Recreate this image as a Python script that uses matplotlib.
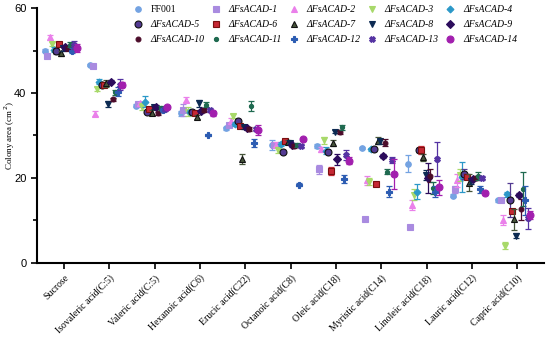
import numpy as np
import matplotlib.pyplot as plt
from matplotlib.ticker import MultipleLocator

plt.rcParams['font.family'] = 'Liberation Serif'

acids = ['Sucrose', 'Isovaleric acid(C:5)', 'Valeric acid(C:5)', 'Hexanoic acid(C6)',
         'Erucic acid(C22)', 'Octanoic acid(C8)', 'Oleic acid(C18)', 'Myristic acid(C14)',
         'Linoleic acid(C18)', 'Lauric acid(C12)', 'Capric acid(C10)']

strains = ['FF001'] + ['\u0394FsACAD-%d' % i for i in range(1, 15)]

# mean colony area (cm2) per strain, one value per carbon source
ff001 = [50.0, 46.6, 37.0, 35.2, 31.7, 27.8, 27.5, 27.0, 23.3, 15.8, 14.7]
acad1 = [48.8, 46.3, 37.3, 36.0, 32.5, 27.8, 22.0, 10.3, 8.5, 17.3, 14.7]
acad2 = [53.1, 35.1, 37.6, 38.4, 33.4, 27.8, 26.7, 19.4, 13.6, 19.4, 10.0]
acad3 = [51.6, 40.9, 36.8, 35.6, 34.6, 26.6, 28.9, 19.1, 16.0, 20.7, 4.0]
acad4 = [50.2, 42.7, 38.0, 35.6, 32.7, 28.0, 26.4, 26.7, 16.8, 20.2, 16.2]
acad5 = [49.9, 41.8, 35.6, 35.5, 33.5, 26.2, 26.2, 26.7, 26.6, 20.9, 14.8]
acad6 = [51.5, 42.0, 36.2, 35.4, 32.2, 28.7, 21.6, 18.6, 26.6, 20.3, 12.2]
acad7 = [49.4, 42.3, 35.4, 34.4, 24.4, 28.5, 28.3, 28.8, 24.9, 18.9, 10.3]
acad8 = [50.5, 37.4, 36.6, 37.6, 31.9, 28.3, 30.9, 28.6, 20.7, 19.3, 6.4]
acad9 = [50.8, 42.7, 36.8, 35.7, 31.7, 27.8, 24.4, 25.2, 19.9, 19.8, 16.0]
acad10 = [50.5, 38.5, 35.2, 36.0, 31.5, 27.5, 30.9, 28.3, 20.5, 20.0, 12.6]
acad11 = [51.4, 40.2, 36.5, 37.2, 36.9, 27.8, 31.9, 21.5, 17.6, 20.5, 17.3]
acad12 = [50.0, 40.3, 36.0, 30.1, 28.2, 18.4, 19.7, 16.8, 16.8, 17.3, 14.7]
acad13 = [51.3, 42.0, 36.3, 36.0, 31.5, 27.5, 25.4, 24.2, 24.4, 19.9, 10.5]
acad14 = [50.6, 41.9, 36.6, 35.2, 31.3, 29.1, 24.1, 21.0, 17.8, 16.4, 11.3]

# standard deviations
sd_ff001 = [0.3, 0.3, 0.3, 0.5, 0.4, 1.2, 0.5, 0.3, 2.0, 0.3, 0.3]
sd_acad1 = [0.3, 0.3, 0.4, 1.5, 0.4, 0.4, 1.0, 0.3, 0.3, 0.8, 0.3]
sd_acad2 = [0.5, 0.6, 0.4, 0.6, 0.6, 0.6, 0.6, 1.1, 1.2, 1.5, 1.2]
sd_acad3 = [0.5, 0.4, 0.8, 1.0, 0.5, 0.7, 0.8, 0.8, 1.3, 1.5, 0.8]
sd_acad4 = [0.6, 0.5, 1.2, 0.4, 0.4, 0.4, 0.8, 0.4, 1.8, 3.5, 0.6]
sd_acad5 = [0.7, 0.4, 0.4, 0.4, 0.4, 0.4, 0.4, 0.4, 0.5, 1.2, 4.0]
sd_acad6 = [0.5, 0.5, 0.4, 0.4, 0.4, 0.4, 0.9, 0.5, 1.0, 0.6, 0.5]
sd_acad7 = [0.6, 0.8, 0.5, 0.5, 1.2, 0.4, 0.7, 0.8, 0.8, 2.0, 2.5]
sd_acad8 = [0.5, 0.8, 0.4, 0.8, 0.4, 0.4, 0.4, 0.5, 1.2, 0.8, 0.6]
sd_acad9 = [0.5, 0.4, 0.4, 0.4, 0.4, 0.4, 1.3, 0.4, 3.5, 0.4, 0.5]
sd_acad10 = [0.5, 0.4, 0.4, 0.4, 0.4, 0.4, 0.5, 0.8, 1.5, 0.4, 2.5]
sd_acad11 = [0.5, 0.6, 0.5, 0.6, 1.2, 0.4, 0.5, 0.6, 1.5, 1.0, 4.0]
sd_acad12 = [0.5, 1.0, 0.4, 0.3, 0.9, 0.3, 0.9, 1.3, 1.2, 0.9, 3.5]
sd_acad13 = [1.0, 1.3, 0.5, 0.5, 0.5, 0.4, 1.2, 0.8, 4.0, 0.5, 2.5]
sd_acad14 = [1.0, 0.6, 0.4, 0.5, 1.1, 0.4, 0.8, 3.5, 1.8, 0.5, 1.0]

means = [ff001, acad1, acad2, acad3, acad4, acad5, acad6, acad7,
         acad8, acad9, acad10, acad11, acad12, acad13, acad14]
sds = [sd_ff001, sd_acad1, sd_acad2, sd_acad3, sd_acad4, sd_acad5, sd_acad6, sd_acad7,
       sd_acad8, sd_acad9, sd_acad10, sd_acad11, sd_acad12, sd_acad13, sd_acad14]

colors = ['#74a3e2', '#a98be0', '#ea80ea', '#a8d96a', '#2b98c8', '#533a92', '#c62834',
          '#46553a', '#0c2a52', '#2c0c5c', '#4c0c2a', '#1f6a50', '#2c5cb2', '#5432a2', '#a21fae']
edges = [None, None, None, None, None, '#111111', '#7a1010', '#111111', None, None,
         None, None, None, None, None]
markers = ['o', 's', '^', 'v', 'D', 'o', 's', '^', 'v', 'D', 'o', 'o', 'P', 'X', 'o']
sizes = [4, 4, 4, 4, 3.5, 5, 5, 4.5, 5, 4, 3.5, 3, 4, 4, 5]

fig, ax = plt.subplots(figsize=(5.5, 3.37), dpi=100)
fig.subplots_adjust(left=0.067, right=0.99, bottom=0.22, top=0.976)

x = np.arange(len(acids))
handles = []
for i in range(len(strains)):
    xs = x - 0.42 + 0.05 * i
    ax.errorbar(xs, means[i], yerr=sds[i], fmt='none', ecolor=colors[i],
                elinewidth=0.9, capsize=2, capthick=0.9, zorder=2 + i)
    h, = ax.plot(xs, means[i], linestyle='none', marker=markers[i], markersize=sizes[i],
                 color=colors[i], markeredgecolor=edges[i] or colors[i],
                 markeredgewidth=0.8, label=strains[i], zorder=3 + i)
    handles.append(h)

ax.set_xlim(-0.6, 10.6)
ax.set_ylim(0, 60)
ax.yaxis.set_major_locator(MultipleLocator(20))
ax.yaxis.set_minor_locator(MultipleLocator(10))
ax.set_xticks(x)
ax.set_xticklabels(acids, rotation=45, ha='right', rotation_mode='anchor', fontsize=7)
for lab in ax.get_yticklabels():
    lab.set_family('Liberation Sans')
    lab.set_fontsize(8)
ax.set_ylabel('Colony area (cm$^2$)', fontsize=6.5)
ax.yaxis.set_label_coords(-0.04, 0.5)
ax.spines['top'].set_visible(False)
ax.spines['right'].set_visible(False)
ax.spines['left'].set_linewidth(1.5)
ax.spines['bottom'].set_linewidth(1.5)
ax.tick_params(width=1.2, length=4)
ax.tick_params(which='minor', width=1.2, length=3)

order = [0, 5, 10, 1, 6, 11, 2, 7, 12, 3, 8, 13, 4, 9, 14]
leg = ax.legend([handles[k] for k in order], [strains[k] for k in order], ncol=5,
                loc='upper left', bbox_to_anchor=(0.172, 1.046), frameon=False,
                fontsize=7, handletextpad=0.8, columnspacing=0.7, labelspacing=0.62,
                handlelength=1.0)
for t in leg.get_texts():
    if t.get_text() != 'FF001':
        t.set_style('italic')

plt.savefig('out.png', dpi=100)
